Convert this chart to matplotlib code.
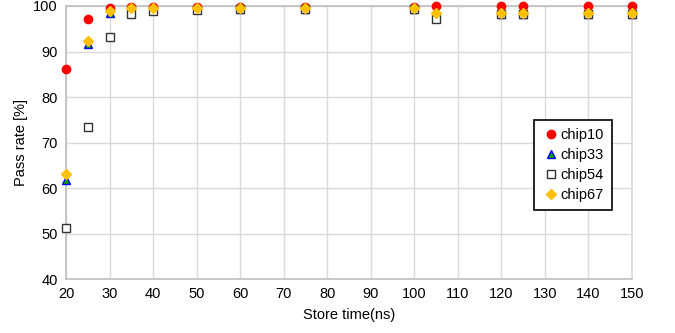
import matplotlib.pyplot as plt

plt.rcParams['font.family'] = ['Liberation Sans', 'DejaVu Sans']

# Store time (ns)
store_time = [20, 25, 30, 35, 40, 50, 60, 75, 100, 105, 120, 125, 140, 150]

# Pass rate (%) per chip
chip10 = [86.1, 97.2, 99.5, 99.7, 99.7, 99.7, 99.7, 99.7, 99.7, 99.9, 99.9, 99.9, 99.9, 99.9]
chip33 = [61.8, 91.7, 98.4, 99.5, 99.5, 99.4, 99.4, 99.4, 99.4, 98.3, 98.2, 98.2, 98.2, 98.2]
chip54 = [51.3, 73.4, 93.1, 98.3, 98.8, 99.2, 99.4, 99.4, 99.4, 97.1, 98.2, 98.3, 98.3, 98.3]
chip67 = [63.1, 92.4, 98.8, 99.6, 99.6, 99.5, 99.5, 99.5, 99.5, 98.4, 98.5, 98.5, 98.5, 98.5]

fig, ax = plt.subplots(figsize=(6.75, 3.33), dpi=100)
fig.subplots_adjust(left=0.098, right=0.936, top=0.982, bottom=0.162)

ax.plot(store_time, chip10, 'o', color='#ff0000', markersize=6, label='chip10', clip_on=False, zorder=3)
ax.plot(store_time, chip33, '^', markerfacecolor='#00a000', markeredgecolor='#0000ff',
        markersize=6, label='chip33', clip_on=False, zorder=3)
ax.plot(store_time, chip54, 's', markerfacecolor='white', markeredgecolor='#333333',
        markersize=6, markeredgewidth=1, label='chip54', clip_on=False, zorder=3)
ax.plot(store_time, chip67, 'D', color='#ffc000', markersize=5, label='chip67', clip_on=False, zorder=3)

ax.set_xlim(20, 150)
ax.set_ylim(40, 100)
ax.set_xticks(range(20, 151, 10))
ax.set_yticks(range(40, 101, 10))
ax.grid(True, color='#d9d9d9', linewidth=1)
ax.set_axisbelow(True)
for s in ax.spines.values():
    s.set_color('#bfbfbf')
    s.set_linewidth(1.2)
ax.spines['right'].set_color('#d9d9d9')
ax.tick_params(length=0, labelsize=10.5, pad=6)

ax.set_xlabel('Store time(ns)', fontsize=10.5, labelpad=5)
ax.set_ylabel('Pass rate [%]', fontsize=10.5)

leg = ax.legend(loc='upper left', bbox_to_anchor=(0.814, 0.608), fontsize=10.5, fancybox=False,
                framealpha=1, edgecolor='black', handletextpad=0.1, borderpad=0.55,
                handlelength=1.2, labelspacing=0.4)
leg.get_frame().set_linewidth(1.2)

plt.savefig('out.png')
